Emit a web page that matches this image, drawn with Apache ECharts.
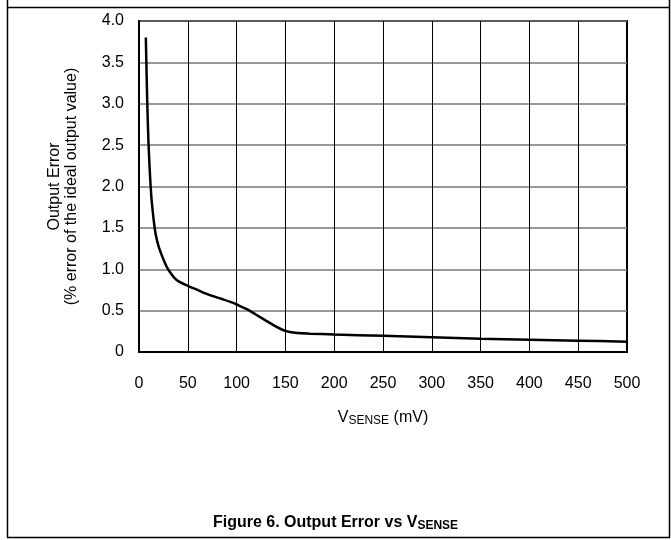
<!DOCTYPE html>
<html>
<head>
<meta charset="utf-8">
<script src="https://cdn.jsdelivr.net/npm/echarts@6/dist/echarts.min.js"></script>
<style>
html,body{margin:0;padding:0;background:#fff;}
#chart{width:671px;height:540px;}
</style>
</head>
<body>
<div id="chart"></div>
<script>
// V_SENSE (mV)
const vsense = [7, 8.5, 10, 12.5, 15, 17, 20, 24, 28, 32, 36, 41, 50, 60, 72, 85, 95, 100, 110, 120, 130, 140, 150, 160, 175, 200, 250, 300, 350, 400, 450, 500];
// Output error (% of ideal output value)
const outputError = [3.8, 3.0, 2.45, 1.9, 1.6, 1.43, 1.28, 1.15, 1.04, 0.96, 0.9, 0.85, 0.8, 0.75, 0.69, 0.64, 0.6, 0.575, 0.52, 0.45, 0.38, 0.31, 0.255, 0.232, 0.222, 0.212, 0.195, 0.178, 0.16, 0.148, 0.137, 0.125];
const xTicks = [0, 50, 100, 150, 200, 250, 300, 350, 400, 450, 500];
const yTicks = ['0', '0.5', '1.0', '1.5', '2.0', '2.5', '3.0', '3.5', '4.0'];

const FONT = 'Liberation Sans, Arial, sans-serif';
const chart = echarts.init(document.getElementById('chart'));
chart.setOption({
  animation: false,
  backgroundColor: '#fff',
  grid: {left: 139, top: 21, right: 44, bottom: 188, show: true, borderColor: '#000', borderWidth: 2},
  title: {
    text: '{b|Figure 6. Output Error vs V}{s|SENSE}',
    left: 'center', top: 508,
    textStyle: {rich: {
      b: {fontFamily: FONT, fontWeight: 'bold', fontSize: 16, color: '#000'},
      s: {fontFamily: FONT, fontWeight: 'bold', fontSize: 12, color: '#000', verticalAlign: 'bottom', padding: [7, 0, 0, 0]}
    }}
  },
  xAxis: {
    type: 'value', min: 0, max: 500, interval: 50,
    axisLine: {show: true, lineStyle: {color: '#000', width: 2}},
    axisTick: {show: false},
    axisLabel: {color: '#000', fontFamily: FONT, fontSize: 16, margin: 24,
      formatter: v => xTicks.indexOf(v) >= 0 ? String(v) : ''},
    splitLine: {show: true, lineStyle: {color: '#000', width: 1}},
    name: '{v|V}{s|SENSE}{v| (mV)}',
    nameLocation: 'middle', nameGap: 56,
    nameTextStyle: {rich: {
      v: {fontFamily: FONT, fontSize: 16, color: '#000'},
      s: {fontFamily: FONT, fontSize: 12, color: '#000', verticalAlign: 'bottom', padding: [7, 0, 0, 0]}
    }}
  },
  yAxis: {
    type: 'value', min: 0, max: 4, interval: 0.5,
    axisLine: {show: true, lineStyle: {color: '#000', width: 2}},
    axisTick: {show: false},
    axisLabel: {color: '#000', fontFamily: FONT, fontSize: 16, margin: 15,
      formatter: v => yTicks[Math.round(v / 0.5)]},
    splitLine: {show: true, lineStyle: {color: '#777', width: 1.5}},
    name: 'Output Error\n(% error of the ideal output value)',
    nameLocation: 'middle', nameGap: 59, nameRotate: 90,
    nameTextStyle: {color: '#000', fontFamily: FONT, fontSize: 16, lineHeight: 17}
  },
  series: [{
    type: 'line',
    data: vsense.map((x, i) => [x, outputError[i]]),
    smooth: 0.3,
    showSymbol: false,
    lineStyle: {color: '#000', width: 2.5}
  }],
  graphic: [
    {type: 'line', shape: {x1: 7.5, y1: 0, x2: 7.5, y2: 537.5}, style: {stroke: '#000', lineWidth: 1.5}},
    {type: 'line', shape: {x1: 669.5, y1: 0, x2: 669.5, y2: 537.5}, style: {stroke: '#000', lineWidth: 1.5}},
    {type: 'line', shape: {x1: 7, y1: 7.5, x2: 670, y2: 7.5}, style: {stroke: '#000', lineWidth: 1.5}},
    {type: 'line', shape: {x1: 7, y1: 537.5, x2: 670, y2: 537.5}, style: {stroke: '#000', lineWidth: 1.5}}
  ]
});
</script>
</body>
</html>
